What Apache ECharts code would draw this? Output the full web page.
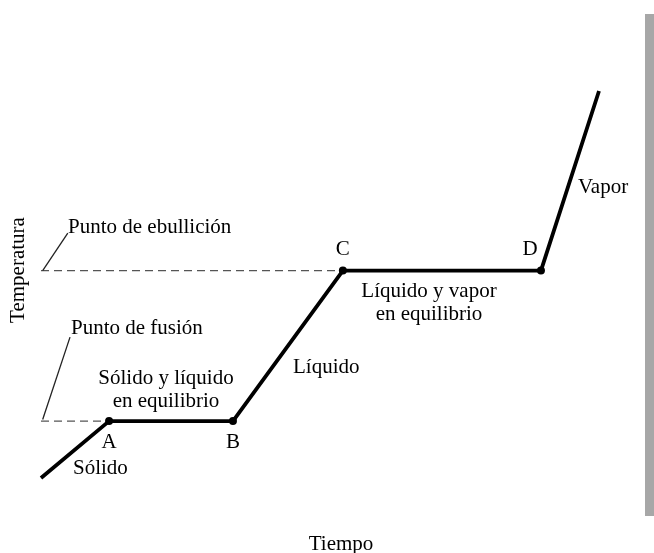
<!DOCTYPE html>
<html>
<head>
<meta charset="utf-8">
<script src="https://cdn.jsdelivr.net/npm/echarts@6/dist/echarts.min.js"></script>
<style>
  html, body { margin: 0; padding: 0; background: #fff; }
  #chart { width: 654px; height: 553px; }
</style>
</head>
<body>
<div id="chart"></div>
<script>
// curva de calentamiento (unidades arbitrarias)
var tiempo = [0, 12.2, 34.4, 54.1, 89.6, 100];
var temperatura = [0, 14.7, 14.7, 53.6, 53.6, 100];
var puntos = ['', 'A', 'B', 'C', 'D', ''];

var puntoFusion = 14.7;
var puntoEbullicion = 53.6;

var serif = '"Liberation Serif", "DejaVu Serif", serif';

var curva = tiempo.map(function (t, i) {
  var item = { value: [t, temperatura[i]] };
  if (puntos[i] === 'A' || puntos[i] === 'B') {
    item.label = { position: 'bottom', distance: 7 };
  }
  if (puntos[i] === 'D') {
    item.label = { offset: [-11, 0] };
  }
  return item;
});

var chart = echarts.init(document.getElementById('chart'));

var option = {
  backgroundColor: '#fff',
  animation: false,
  grid: { left: 41, right: 55, top: 91, bottom: 75 },
  xAxis: { type: 'value', min: 0, max: 100, show: false },
  yAxis: { type: 'value', min: 0, max: 100, show: false },
  series: [
    {
      // línea punteada del punto de fusión
      type: 'line',
      data: [[0, puntoFusion], [tiempo[1], puntoFusion]],
      symbol: 'none',
      lineStyle: { color: '#555', width: 1.3, type: [8, 5] },
      z: 1
    },
    {
      // línea punteada del punto de ebullición
      type: 'line',
      data: [[0, puntoEbullicion], [tiempo[3], puntoEbullicion]],
      symbol: 'none',
      lineStyle: { color: '#555', width: 1.3, type: [8, 5] },
      z: 1
    },
    {
      // guías de las etiquetas
      type: 'line',
      data: [[0.3, puntoEbullicion], [4.8, 63.3]],
      symbol: 'none',
      lineStyle: { color: '#222', width: 1.3 },
      z: 1
    },
    {
      type: 'line',
      data: [[0.3, puntoFusion + 0.4], [5.2, 36.4]],
      symbol: 'none',
      lineStyle: { color: '#222', width: 1.3 },
      z: 1
    },
    {
      type: 'line',
      data: curva,
      symbol: function (v, p) { return puntos[p.dataIndex] ? 'circle' : 'none'; },
      symbolSize: 8,
      itemStyle: { color: '#000' },
      lineStyle: { color: '#000', width: 3.8 },
      label: {
        show: true,
        position: 'top',
        distance: 7,
        fontFamily: serif,
        fontSize: 21,
        color: '#000',
        formatter: function (p) { return puntos[p.dataIndex]; }
      },
      z: 3
    }
  ],
  graphic: [
    { type: 'rect', shape: { x: 645, y: 14, width: 9, height: 502 }, style: { fill: '#8a8a8a', opacity: 0.75 } },
    { type: 'text', x: 68, y: 227, style: { text: 'Punto de ebullición', font: '21px ' + serif, fill: '#000', verticalAlign: 'middle' } },
    { type: 'text', x: 71, y: 328, style: { text: 'Punto de fusión', font: '21px ' + serif, fill: '#000', verticalAlign: 'middle' } },
    { type: 'text', x: 166, y: 390, style: { text: 'Sólido y líquido\nen equilibrio', font: '21px ' + serif, lineHeight: 23, fill: '#000', align: 'center', verticalAlign: 'middle' } },
    { type: 'text', x: 73, y: 468, style: { text: 'Sólido', font: '21px ' + serif, fill: '#000', verticalAlign: 'middle' } },
    { type: 'text', x: 293, y: 367, style: { text: 'Líquido', font: '21px ' + serif, fill: '#000', verticalAlign: 'middle' } },
    { type: 'text', x: 429, y: 303, style: { text: 'Líquido y vapor\nen equilibrio', font: '21px ' + serif, lineHeight: 23, fill: '#000', align: 'center', verticalAlign: 'middle' } },
    { type: 'text', x: 578, y: 187, style: { text: 'Vapor', font: '21px ' + serif, fill: '#000', verticalAlign: 'middle' } },
    { type: 'text', x: 341, y: 544, style: { text: 'Tiempo', font: '21px ' + serif, fill: '#000', align: 'center', verticalAlign: 'middle' } },
    { type: 'text', x: 18, y: 270, rotation: Math.PI / 2, style: { text: 'Temperatura', font: '21px ' + serif, fill: '#000', align: 'center', verticalAlign: 'middle' } }
  ]
};

chart.setOption(option);
</script>
</body>
</html>
